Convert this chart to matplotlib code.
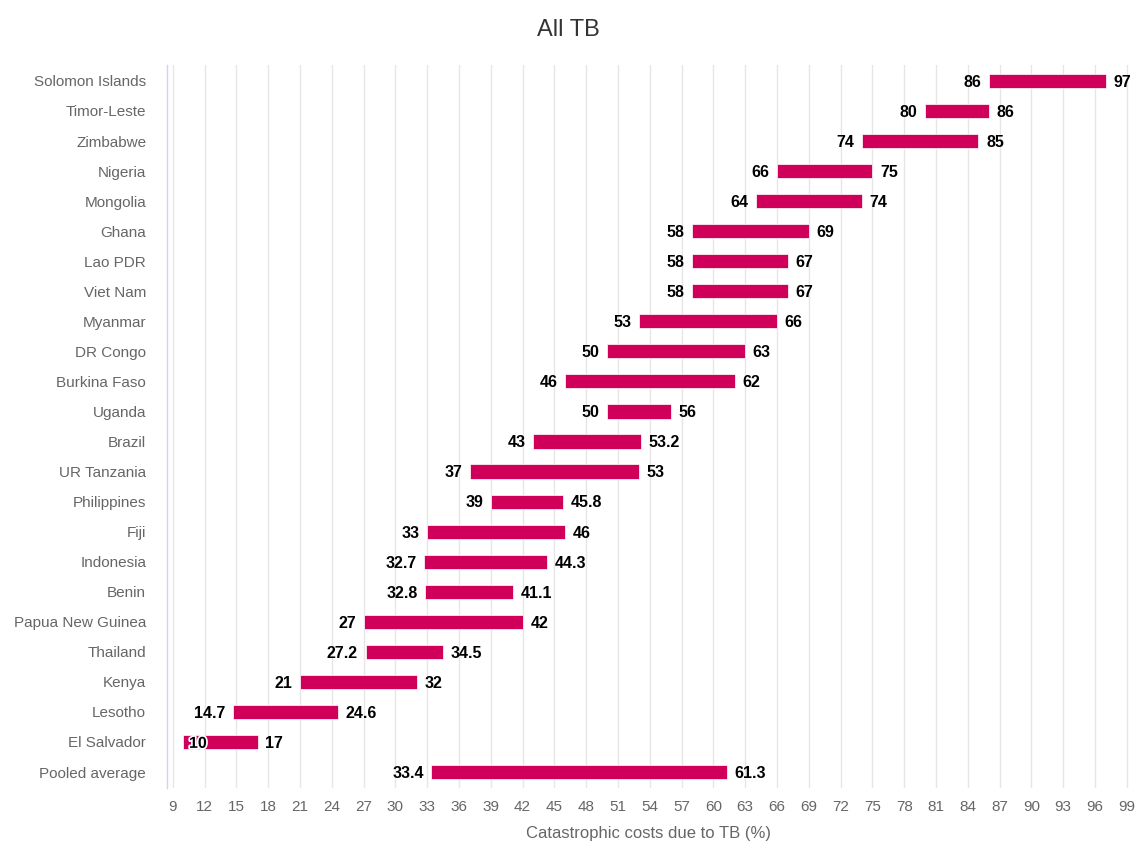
import matplotlib
matplotlib.use("Agg")
import matplotlib.pyplot as plt
import matplotlib.patheffects as pe

categories = ["Solomon Islands", "Timor-Leste", "Zimbabwe", "Nigeria", "Mongolia", "Ghana",
              "Lao PDR", "Viet Nam", "Myanmar", "DR Congo", "Burkina Faso", "Uganda", "Brazil",
              "UR Tanzania", "Philippines", "Fiji", "Indonesia", "Benin", "Papua New Guinea",
              "Thailand", "Kenya", "Lesotho", "El Salvador", "Pooled average"]
low = [86, 80, 74, 66, 64, 58, 58, 58, 53, 50, 46, 50, 43, 37, 39, 33, 32.7, 32.8, 27, 27.2, 21, 14.7, 10, 33.4]
high = [97, 86, 85, 75, 74, 69, 67, 67, 66, 63, 62, 56, 53.2, 53, 45.8, 46, 44.3, 41.1, 42, 34.5, 32, 24.6, 17, 61.3]
low_labels = ["86", "80", "74", "66", "64", "58", "58", "58", "53", "50", "46", "50", "43", "37", "39",
              "33", "32.7", "32.8", "27", "27.2", "21", "14.7", "10", "33.4"]
high_labels = ["97", "86", "85", "75", "74", "69", "67", "67", "66", "63", "62", "56", "53.2", "53",
               "45.8", "46", "44.3", "41.1", "42", "34.5", "32", "24.6", "17", "61.3"]
xticks = list(range(9, 100, 3))

plt.rcParams['font.family'] = ['Liberation Sans', 'DejaVu Sans']

fig = plt.figure(figsize=(11.37, 8.44), dpi=100)
ax = fig.add_axes([0.1469, 0.0664, 0.8469, 0.8566])

ypos = list(range(len(categories)))
widths = [h - l for l, h in zip(low, high)]
ax.barh(ypos, widths, left=low, height=0.47, color="#d0005a", edgecolor="white", linewidth=0.5, zorder=3)

for i, (l, h, ll, hl) in enumerate(zip(low, high, low_labels, high_labels)):
    if l <= 10.5:
        ax.annotate(ll, (l, i), xytext=(4, -1), textcoords="offset points", ha="left", va="center",
                    fontsize=11.5, fontweight="bold", color="black", zorder=5,
                    path_effects=[pe.withStroke(linewidth=2.5, foreground="white")])
    else:
        ax.annotate(ll, (l, i), xytext=(-5.5, -1), textcoords="offset points", ha="right", va="center",
                    fontsize=11.5, fontweight="bold", color="black", zorder=5)
    ax.annotate(hl, (h, i), xytext=(5.5, -1), textcoords="offset points", ha="left", va="center",
                fontsize=11.5, fontweight="bold", color="black", zorder=5)

ax.set_xlim(8.45, 99.3)
ax.set_ylim(23.53, -0.53)
ax.set_xticks(xticks)
ax.set_xticklabels([str(t) for t in xticks], fontsize=11, color="#666666")
ax.set_yticks(ypos)
ax.set_yticklabels(categories, fontsize=11, color="#666666")
ax.tick_params(axis="y", length=0, pad=15)
ax.tick_params(axis="x", length=0, pad=9)
ax.grid(axis="x", color="#e6e6e6", linewidth=1, zorder=0)
for s in ["top", "right", "bottom"]:
    ax.spines[s].set_visible(False)
ax.spines["left"].set_color("#ccd6eb")
ax.spines["left"].set_linewidth(1)
ax.set_xlabel("Catastrophic costs due to TB (%)", fontsize=12, color="#666666", labelpad=8)
fig.suptitle("All TB", fontsize=17, color="#333333", y=0.978)

fig.savefig("out.png", dpi=100)
